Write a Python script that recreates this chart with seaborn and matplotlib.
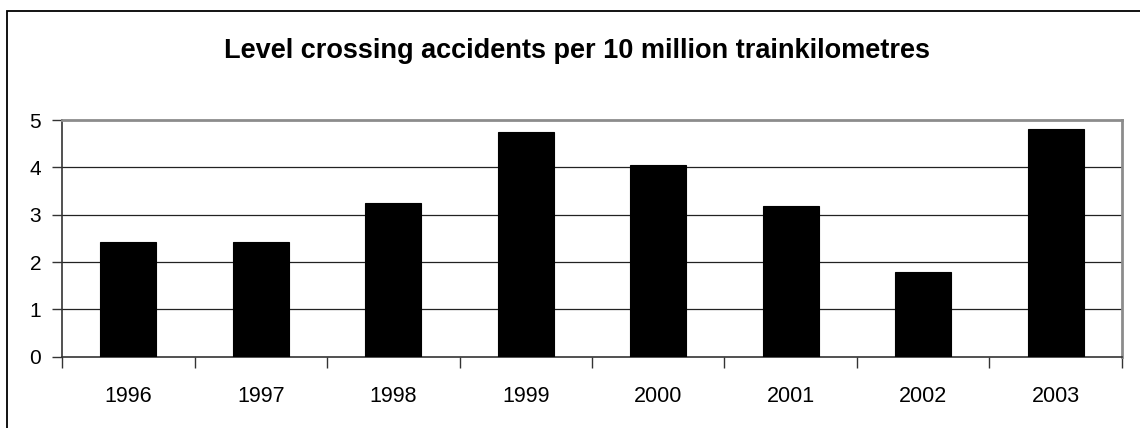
import matplotlib
matplotlib.use("Agg")
import matplotlib.pyplot as plt
import seaborn as sns
import pandas as pd
from matplotlib.patches import Rectangle
from matplotlib.ticker import FixedLocator

years = ["1996", "1997", "1998", "1999", "2000", "2001", "2002", "2003"]
values = [2.43, 2.43, 3.24, 4.75, 4.05, 3.19, 1.79, 4.81]
yticks = [0, 1, 2, 3, 4, 5]
title = "Level crossing accidents per 10 million trainkilometres"

sns.set_style("white")
plt.rcParams['font.family'] = ['Liberation Sans', 'DejaVu Sans']
plt.rcParams['text.color'] = 'black'
plt.rcParams['xtick.color'] = 'black'
plt.rcParams['ytick.color'] = 'black'

df = pd.DataFrame({"year": years, "value": values})

fig = plt.figure(figsize=(11.4, 4.28), dpi=100)
ax = fig.add_axes([0.0544, 0.1666, 0.9298, 0.553])

sns.barplot(data=df, x="year", y="value", color="black", width=0.42,
            saturation=1, edgecolor="black", linewidth=0.8, ax=ax, zorder=3)

ax.set_xlim(-0.5, 7.5)
ax.set_ylim(0, 5)
ax.set_yticks(yticks)
ax.set_xlabel("")
ax.set_ylabel("")

for y in yticks[1:-1]:
    ax.axhline(y, color="#222222", lw=0.9, zorder=1)

ax.xaxis.set_minor_locator(FixedLocator([i - 0.5 for i in range(len(years) + 1)]))
ax.tick_params(axis="x", which="major", length=0, pad=21, labelsize=15.5)
ax.tick_params(axis="x", which="minor", length=8, width=1, color="#333333", direction="out", bottom=True)
ax.tick_params(axis="y", which="major", length=7, width=1, color="#333333", direction="out", left=True, pad=8, labelsize=15)

for side in ["left", "bottom"]:
    ax.spines[side].set_color("#333333")
    ax.spines[side].set_linewidth(1.2)
for side in ["top", "right"]:
    ax.spines[side].set_visible(True)
    ax.spines[side].set_color("#8c8c8c")
    ax.spines[side].set_linewidth(2)

fig.text(0.506, 0.881, title, ha="center", va="center", fontsize=19.5, fontweight="bold")

fig.patches.append(Rectangle((7 / 1140, -0.1), 1.2, 1 - 11 / 428 + 0.1, transform=fig.transFigure,
                             fill=False, edgecolor="black", lw=1.3, clip_on=False))

fig.savefig("out.png", dpi=100)
